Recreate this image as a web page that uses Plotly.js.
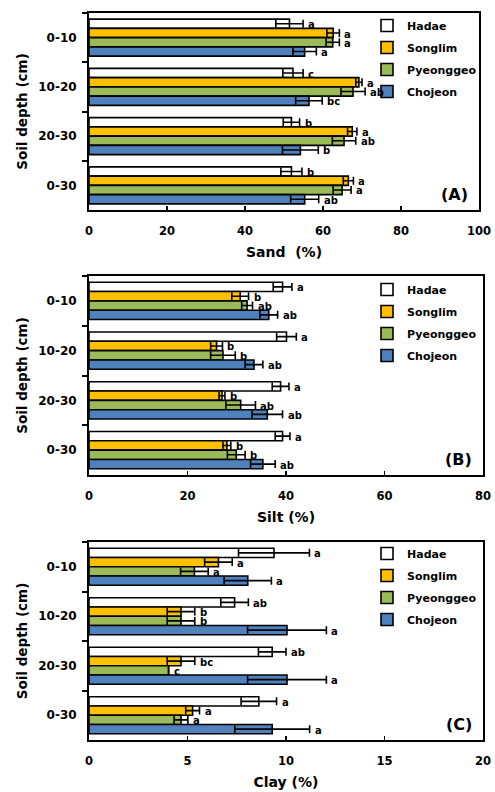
<!DOCTYPE html>
<html>
<head>
<meta charset="utf-8">
<script src="https://cdn.plot.ly/plotly-3.0.1.min.js"></script>
<style>html,body{margin:0;padding:0;background:#fff}#chart{width:495px;height:792px}</style>
</head>
<body>
<div id="chart"></div>
<script>
// ---- data ----
const depths = ['0-10', '10-20', '20-30', '0-30'];
const sites = ['Hadae', 'Songlim', 'Pyeonggeo', 'Chojeon'];

const sandHadae = [51.4, 52.3, 51.9, 51.9];
const sandSonglim = [62.6, 69.2, 67.5, 66.5];
const sandPyeonggeo = [62.5, 67.7, 65.4, 64.9];
const sandChojeon = [55.3, 56.4, 54.2, 55.3];
const sandErrHadae = [3.5, 2.6, 2.1, 2.7];
const sandErrSonglim = [1.6, 0.8, 1.2, 1.3];
const sandErrPyeonggeo = [1.7, 3.1, 3.0, 2.3];
const sandErrChojeon = [3.0, 3.4, 4.6, 3.6];
const sandLetHadae = ['a', 'c', 'b', 'b'];
const sandLetSonglim = ['a', 'a', 'a', 'a'];
const sandLetPyeonggeo = ['a', 'ab', 'ab', 'a'];
const sandLetChojeon = ['a', 'bc', 'b', 'ab'];

const siltHadae = [39.3, 40.1, 38.9, 39.3];
const siltSonglim = [30.7, 25.9, 27.0, 28.0];
const siltPyeonggeo = [32.1, 27.2, 30.8, 29.9];
const siltChojeon = [36.5, 33.5, 36.2, 35.3];
const siltErrHadae = [1.9, 2.0, 1.7, 1.5];
const siltErrSonglim = [1.7, 1.2, 0.6, 0.8];
const siltErrPyeonggeo = [1.1, 2.5, 3.0, 1.8];
const siltErrChojeon = [1.8, 1.8, 3.1, 2.5];
const siltLetHadae = ['a', 'a', 'a', 'a'];
const siltLetSonglim = ['b', 'b', 'b', 'b'];
const siltLetPyeonggeo = ['ab', 'b', 'ab', 'b'];
const siltLetChojeon = ['ab', 'ab', 'ab', 'ab'];

const clayHadae = [9.39, 7.39, 9.3, 8.62];
const claySonglim = [6.57, 4.67, 4.67, 5.26];
const clayPyeonggeo = [5.35, 4.67, 4.04, 4.67];
const clayChojeon = [8.06, 10.05, 10.05, 9.3];
const clayErrHadae = [1.8, 0.7, 0.7, 0.9];
const clayErrSonglim = [0.7, 0.7, 0.7, 0.35];
const clayErrPyeonggeo = [0.7, 0.7, 0.0, 0.35];
const clayErrChojeon = [1.2, 2.0, 2.0, 1.9];
const clayLetHadae = ['a', 'ab', 'ab', 'a'];
const clayLetSonglim = ['a', 'b', 'bc', 'a'];
const clayLetPyeonggeo = ['a', 'b', 'c', 'a'];
const clayLetChojeon = ['a', 'a', 'a', 'a'];

const colors = ['#FFFFFF', '#FFC000', '#9BBB59', '#4F81BD'];

// ---- panels ----
const panels = [
  {suffix: '', title: 'Sand  (%)', label: '(A)', range: [0, 100], dtick: 20,
   xdom: [89, 479], ydom: [13, 210], legTop: 11,
   vals: [sandHadae, sandSonglim, sandPyeonggeo, sandChojeon],
   errs: [sandErrHadae, sandErrSonglim, sandErrPyeonggeo, sandErrChojeon],
   lets: [sandLetHadae, sandLetSonglim, sandLetPyeonggeo, sandLetChojeon]},
  {suffix: '2', title: 'Silt (%)', label: '(B)', range: [0, 80], dtick: 20,
   xdom: [89, 483], ydom: [276, 475], legTop: 275,
   vals: [siltHadae, siltSonglim, siltPyeonggeo, siltChojeon],
   errs: [siltErrHadae, siltErrSonglim, siltErrPyeonggeo, siltErrChojeon],
   lets: [siltLetHadae, siltLetSonglim, siltLetPyeonggeo, siltLetChojeon]},
  {suffix: '3', title: 'Clay (%)', label: '(C)', range: [0, 20], dtick: 5,
   xdom: [89, 483], ydom: [542, 740], legTop: 539,
   vals: [clayHadae, claySonglim, clayPyeonggeo, clayChojeon],
   errs: [clayErrHadae, clayErrSonglim, clayErrPyeonggeo, clayErrChojeon],
   lets: [clayLetHadae, clayLetSonglim, clayLetPyeonggeo, clayLetChojeon]}
];

const W = 495, H = 792;
const FONT = 'DejaVu Sans';
const bargap = 0.25;
const traces = [];
const annotations = [];
const layout = {
  width: W, height: H,
  margin: {l: 0, r: 0, t: 0, b: 0},
  paper_bgcolor: '#fff', plot_bgcolor: '#fff',
  barmode: 'group', bargap: bargap, bargroupgap: 0,
  font: {family: FONT, color: '#000', size: 12, weight: 700},
  showlegend: true,
  annotations: annotations
};

panels.forEach((p, pi) => {
  const xa = 'x' + p.suffix, ya = 'y' + p.suffix;
  const legName = pi === 0 ? 'legend' : 'legend' + (pi + 1);
  sites.forEach((s, i) => {
    traces.push({
      type: 'bar', orientation: 'h', name: s,
      x: p.vals[i], y: depths,
      xaxis: xa, yaxis: ya,
      legend: legName, legendgroup: 'g' + pi + '_' + i,
      marker: {color: colors[i], line: {color: '#000', width: 1.6}},
      error_x: {type: 'data', array: p.errs[i], visible: true, color: '#000', thickness: 1.6, width: 4},
      hoverinfo: 'x+y+name'
    });
  });
  const xKey = 'xaxis' + p.suffix, yKey = 'yaxis' + p.suffix;
  layout[xKey] = {
    domain: [p.xdom[0] / W, p.xdom[1] / W], anchor: ya,
    range: p.range, dtick: p.dtick, tick0: 0,
    ticks: 'inside', ticklen: 4, tickwidth: 1.5, tickcolor: '#000',
    showline: true, linecolor: '#000', linewidth: 2, mirror: true,
    showgrid: false, zeroline: false, fixedrange: true, ticklabelstandoff: 9,
    tickfont: {family: FONT, size: 11.5, weight: 700, color: '#000'},
    title: {text: p.title, font: {family: FONT, size: 14, weight: 700, color: '#000'}, standoff: 10}
  };
  layout[yKey] = {
    domain: [1 - p.ydom[1] / H, 1 - p.ydom[0] / H], anchor: xa,
    type: 'category', categoryorder: 'array', categoryarray: depths,
    autorange: 'reversed',
    ticks: 'outside', tickson: 'boundaries', ticklen: 5, tickwidth: 2, tickcolor: '#000',
    showline: true, linecolor: '#000', linewidth: 2, mirror: true,
    showgrid: false, zeroline: false, fixedrange: true, ticklabelstandoff: 8,
    tickfont: {family: FONT, size: 12, weight: 700, color: '#000'},
    title: {text: 'Soil depth (cm)', font: {family: FONT, size: 13.5, weight: 700, color: '#000'}, standoff: 7}
  };
  layout[legName] = {
    x: 367 / W, xanchor: 'left',
    y: 1 - p.legTop / H, yanchor: 'top',
    bgcolor: 'rgba(0,0,0,0)', borderwidth: 0,
    traceorder: 'grouped', tracegroupgap: 3,
    font: {family: FONT, size: 11, weight: 700, color: '#000'}
  };
  // significance letters
  const catPx = (p.ydom[1] - p.ydom[0]) / depths.length;
  const slot = catPx * (1 - bargap) / sites.length;
  sites.forEach((s, i) => {
    depths.forEach((d, j) => {
      annotations.push({
        xref: xa, yref: ya, x: p.vals[i][j] + p.errs[i][j], y: d,
        text: p.lets[i][j], showarrow: false, xanchor: 'left', yanchor: 'middle',
        xshift: 3, yshift: (1.5 - i) * slot - 1,
        font: {family: FONT, size: 10, weight: 700, color: '#000'}
      });
    });
  });
  annotations.push({
    xref: xa + ' domain', yref: ya + ' domain', x: 0.977, y: 0.02,
    xanchor: 'right', yanchor: 'bottom', showarrow: false, text: p.label,
    font: {family: FONT, size: 16, weight: 700, color: '#000'}
  });
});

Plotly.newPlot('chart', traces, layout, {staticPlot: true, displayModeBar: false});
</script>
</body>
</html>
